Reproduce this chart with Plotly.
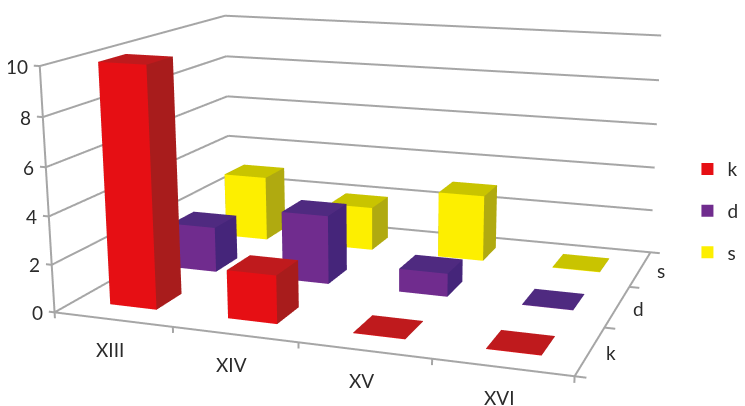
import plotly.graph_objects as go

categories = ["XIII", "XIV", "XV", "XVI"]
series = ["k", "d", "s"]
k_values = [10, 2, 0, 0]
d_values = [2, 3, 1, 0]
s_values = [3, 2, 3, 0]
z_ticks = [0, 2, 4, 6, 8, 10]
all_values = [k_values, d_values, s_values]
front = ["#e60f14", "#702c8e", "#fdef00"]
top = ["#bf1a1d", "#4f2a80", "#c9c400"]
side = ["#a81c1c", "#45257a", "#b0aa10"]
GRID = "#a6a6a6"
TXT = "#2b2b2b"
FONT = "Lato"
BW, BD = 0.40, 0.40
NX, NY, ZMAX = len(categories), len(series), z_ticks[-1]
PX, PY, PZ = 0.15, 0.15, 0.3

fig = go.Figure()

def bar(xc, yc, h, i):
    x0, x1, y0, y1 = xc - BW/2, xc + BW/2, yc - BD/2, yc + BD/2
    h = max(h, 0.02)
    xs = [x0, x1, x1, x0, x0, x1, x1, x0]
    ys = [y0, y0, y1, y1, y0, y0, y1, y1]
    zs = [0, 0, 0, 0, h, h, h, h]
    tri = [(0,1,5,front[i]),(0,5,4,front[i]),(1,2,6,side[i]),(1,6,5,side[i]),
           (4,5,6,top[i]),(4,6,7,top[i]),(3,2,6,side[i]),(3,6,7,side[i]),
           (0,3,7,side[i]),(0,7,4,side[i])]
    fig.add_trace(go.Mesh3d(x=xs, y=ys, z=zs, i=[t[0] for t in tri], j=[t[1] for t in tri],
                            k=[t[2] for t in tri], facecolor=[t[3] for t in tri], flatshading=True,
                            lighting=dict(ambient=1, diffuse=0, specular=0, fresnel=0, roughness=1),
                            showlegend=False, hoverinfo="skip", showscale=False))

for i, row in enumerate(all_values):
    for j, v in enumerate(row):
        bar(j + 0.5, i + 0.5, v, i)

# walls, floor edges and boundary tick marks, as thick lines
tx, ty, tz = [], [], []
def seg(a, b):
    tx.extend([a[0], b[0], None]); ty.extend([a[1], b[1], None]); tz.extend([a[2], b[2], None])
for z in z_ticks:
    seg((0, 0, z), (0, NY, z))
    seg((0, NY, z), (NX, NY, z))
    seg((0, 0, z), (-0.05, 0, z))
seg((0, 0, 0), (0, 0, ZMAX))
seg((0, 0, 0), (NX, 0, 0))
seg((NX, 0, 0), (NX, NY, 0))
for j in range(NX + 1):
    seg((j, 0, 0), (j, 0, -0.25))
for i in range(NY + 1):
    seg((NX, i, 0), (NX + 0.08, i, 0))
fig.add_trace(go.Scatter3d(x=tx, y=ty, z=tz, mode="lines", line=dict(color=GRID, width=4),
                           showlegend=False, hoverinfo="skip"))

for i, s in enumerate(series):
    fig.add_trace(go.Scatter3d(x=[None], y=[None], z=[None], mode="markers", name=s, legendgroup=s,
                  marker=dict(symbol="square", size=11, color=front[i])))

# tick labels as text anchored on the scene's data coordinates
tf = dict(family=FONT, size=19, color=TXT)
notes = []
for z in z_ticks:
    notes.append(dict(x=0, y=0, z=z, text=str(z), showarrow=False, xanchor="right", xshift=-10, font=tf))
for j, c in enumerate(categories):
    notes.append(dict(x=j + 0.5, y=0, z=0, text=c, showarrow=False, xshift=-3, yshift=-30, font=tf))
for i, s in enumerate(series):
    notes.append(dict(x=NX, y=i + 0.5, z=0, text=s, showarrow=False, xshift=21, yshift=-2, font=tf))

axis = dict(showbackground=False, showspikes=False, title="", zeroline=False, showgrid=False,
            showline=False, showticklabels=False, ticks="")
fig.update_layout(
    width=745, height=406, margin=dict(l=0, r=0, t=0, b=0, autoexpand=False),
    paper_bgcolor="white", font=dict(family=FONT, size=19, color=TXT),
    legend=dict(x=0.912, y=0.65, xanchor="left", yanchor="top", tracegroupgap=14,
                itemsizing="constant", bgcolor="rgba(0,0,0,0)"),
    scene=dict(
        domain=dict(x=[0, 1], y=[0, 1]),
        aspectmode="manual",
        aspectratio=dict(x=2.125 * (NX + 2 * PX) / NX, y=1.66 * (NY + 2 * PY) / NY, z=1.0 * (ZMAX + 2 * PZ) / ZMAX),
        camera=dict(eye=dict(x=2.021, y=-5.625, z=1.38), center=dict(x=0.053, y=-0.044, z=-0.175),
                    up=dict(x=0, y=0, z=1), projection=dict(type="perspective")),
        xaxis=dict(axis, range=[-PX, NX + PX]),
        yaxis=dict(axis, range=[-PY, NY + PY]),
        zaxis=dict(axis, range=[-PZ, ZMAX + PZ]),
        annotations=notes,
    ),
)

post = """
var gd = document.getElementsByClassName('plotly-graph-div')[0];
var g = gd._fullLayout.scene._scene.glplot;
g.fovy = 2 * Math.atan(203 / 1450);
if (g.redraw) g.redraw();
"""
fig.write_html("out.html", post_script=post)
